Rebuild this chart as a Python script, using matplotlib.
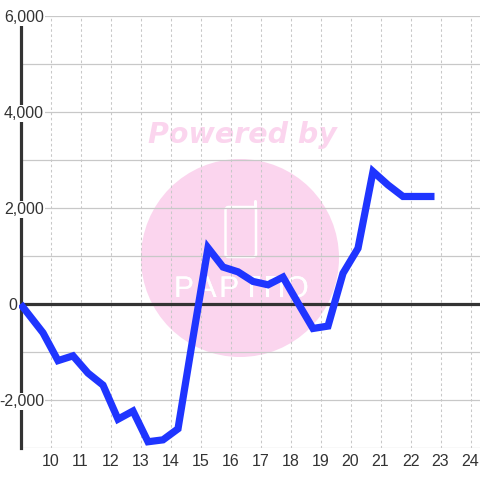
import matplotlib
matplotlib.use("Agg")
import matplotlib.pyplot as plt
import matplotlib.patheffects as pe
from matplotlib.lines import Line2D
from matplotlib.patches import Circle, FancyBboxPatch

plt.rcParams['font.family'] = ['Liberation Sans', 'DejaVu Sans']

# Valeurs
hours = [9.0, 9.75, 10.25, 10.75, 11.25, 11.75, 12.25, 12.75, 13.25, 13.75, 14.25, 14.75,
         15.25, 15.75, 16.25, 16.75, 17.25, 17.75, 18.25, 18.75, 19.25, 19.75, 20.25,
         20.75, 21.25, 21.75, 22.25, 22.8]
values = [0, -600, -1180, -1080, -1440, -1690, -2400, -2230, -2870, -2830, -2600, -700,
          1170, 770, 670, 470, 400, 560, 20, -510, -460, 640, 1160,
          2760, 2480, 2240, 2240, 2240]
x_ticks = list(range(10, 25))
y_major = [-2000, 0, 2000, 4000, 6000]
y_minor = [-3000, -1000, 1000, 3000, 5000]
logo_letters = ['P', 'A', 'P', 'T', 'П', 'O']

W, H = 480, 480
fig = plt.figure(figsize=(W / 100, H / 100), dpi=100, facecolor='white')
ax = fig.add_axes([20.5 / W, 32 / H, 459.5 / W, 432 / H])
ax.patch.set_visible(False)
ax.set_xlim(9, 9 + 459.5 / 30)
ax.set_ylim(-3000, 6000)

# --- Filigrane (en pixels de la figure, sous le graphique) ---
pink = '#fbd5ee'
def fx(p): return p / W
def fy(p): return 1 - p / H

fig.patches.append(Circle((240, H - 258), 99, transform=None, facecolor=pink, edgecolor='none', zorder=-3))
fig.patches.append(FancyBboxPatch((225.5, H - 257), 30.5, 50, boxstyle='round,pad=0,rounding_size=3', transform=None,
                                  facecolor='none', edgecolor='white', lw=1.8, zorder=-2))
fig.add_artist(Line2D([fx(255), fx(255)], [fy(207), fy(201)], color='white', lw=2.2,
                      solid_capstyle='round', zorder=-2))
fig.text(fx(242), fy(135), 'Powered by', color=pink, fontsize=20.5, fontweight='bold', style='italic',
         family='DejaVu Sans', ha='center', va='center', zorder=-2)
for i, letter in enumerate(logo_letters):
    # lettres fines : contour rose par-dessus pour amincir le blanc
    t = fig.text(fx(184 + i * 22.6), fy(289), letter, color='white', fontsize=21.5,
                 ha='center', va='center', zorder=-2)
    t.set_path_effects([pe.withStroke(linewidth=0.6, foreground=pink), pe.Normal()])

# --- Grille ---
ax.set_xticks(x_ticks)
ax.set_yticks(y_major)
ax.set_yticks(y_minor, minor=True)
ax.set_yticklabels([])
ax.set_xticklabels([str(t) for t in x_ticks], fontsize=11.5, color='#333333')
ax.grid(axis='y', which='both', color='#c8c8c8', lw=0.9, zorder=1)
ax.grid(axis='x', color='#c8c8c8', lw=0.75, linestyle=(0, (2.5, 2.5)), zorder=1)
ax.tick_params(which='both', length=0)
ax.tick_params(axis='x', pad=4)
ax.set_axisbelow(True)

# Libellés de l'axe y posés à la main pour passer devant l'axe
for v in y_major:
    x_lab = -3 / 459.5 if v == 0 else 23.5 / 459.5
    ax.text(x_lab, v, f'{v:,}', transform=ax.get_yaxis_transform(), fontsize=11.5, color='#333333',
            ha='right', va='center_baseline', zorder=6, clip_on=False,
            bbox=dict(facecolor='white', edgecolor='none', pad=1.0))

for side in ['top', 'right', 'bottom']:
    ax.spines[side].set_visible(False)
ax.spines['left'].set_color('#333333')
ax.spines['left'].set_linewidth(2.3)
ax.spines['left'].set_zorder(3)
ax.axhline(0, color='#333333', lw=2.3, zorder=3)

ax.plot(hours, values, color='#1f35ff', lw=5.2, solid_joinstyle='miter', solid_capstyle='butt', zorder=4, clip_on=False)

fig.savefig('out.png', dpi=100)
